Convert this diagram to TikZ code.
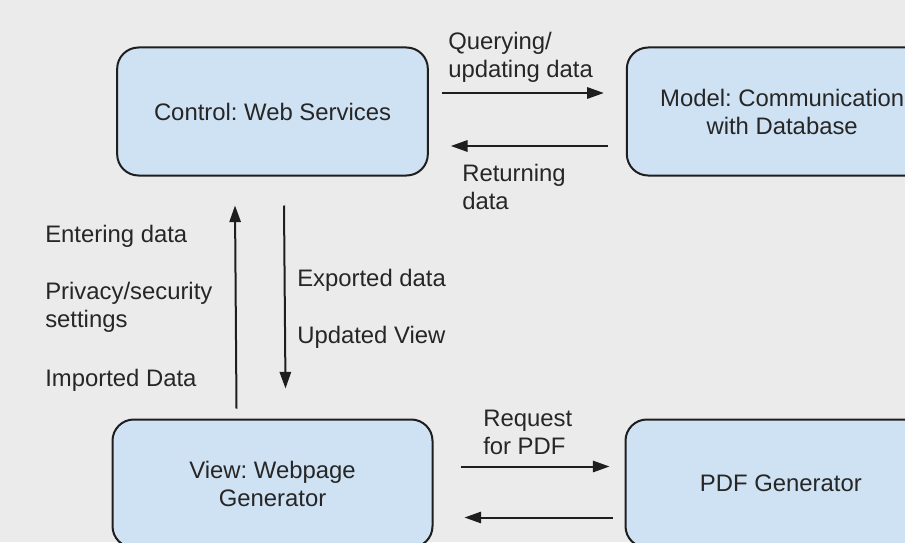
\documentclass[tikz,border=0pt]{standalone}
\usepackage{fontspec}
\setmainfont{Liberation Sans}
\frenchspacing
\usetikzlibrary{positioning, arrows.meta, calc}
\definecolor{bgray}{RGB}{235,235,235}
\definecolor{boxblue}{RGB}{207,226,243}
\definecolor{edgegray}{RGB}{30,30,30}

\begin{document}
\begin{tikzpicture}[x=0.75pt, y=-0.75pt, >={Triangle[length=12.5pt,width=8.5pt]},
          font=\fontsize{17.9}{21}\selectfont,
          box/.style={rectangle, rounded corners=16pt, draw=edgegray, fill=boxblue,
                      line width=1.5pt, minimum width=233pt, minimum height=96pt,
                      align=center, inner sep=0pt, text=black!85},
          ar/.style={->, draw=edgegray, line width=1.5pt},
          lbl/.style={align=left, inner sep=0pt, anchor=west, text=black!85}]
        \useasboundingbox (0,0) rectangle (905,542);
        \fill[bgray] (0,0) rectangle (905,542);
        \clip (0,0) rectangle (905,542);
        % the four parts
        \node[box] (ctrl) at (272.5,111.5) {Control: Web Services};
        \node[box, right=147.75pt of ctrl] (model) {Model: Communication\\with Database};
        \node[box, minimum width=240pt, below=181.5pt of ctrl] (view) {View: Webpage\\Generator};
        \node[box, right=143.25pt of view] (pdf) {PDF Generator};
        % control <-> model
        \draw[ar] ($(ctrl.east)+(13,-18.5)$) -- ($(model.west)+(-22,-18.5)$);
        \draw[ar] ($(model.west)+(-18,34.5)$) -- ($(ctrl.east)+(22,34.5)$);
        \node[lbl] at (448,57) {Querying/\\updating data};
        \node[lbl] at (462,187) {Returning\\data};
        % view <-> control
        \draw[ar] ($(view.north)+(-36,-10)$) -- ($(ctrl.south)+(-37.5,29)$);
        \draw[ar] ($(ctrl.south)+(11.5,29)$) -- ($(view.north)+(13,-30)$);
        \node[lbl] at (45,236) {Entering data};
        \node[lbl] at (45,307) {Privacy/security\\settings};
        \node[lbl] at (45,380) {Imported Data};
        \node[lbl] at (297,280) {Exported data};
        \node[lbl] at (297,337) {Updated View};
        % view <-> pdf
        \draw[ar] ($(view.east)+(27,-17)$) -- ($(pdf.west)+(-15,-17)$);
        \draw[ar] ($(pdf.west)+(-12,34)$) -- ($(view.east)+(31,34)$);
        \node[lbl] at (483,432) {Request\\for PDF};
      \end{tikzpicture}
\end{document}
